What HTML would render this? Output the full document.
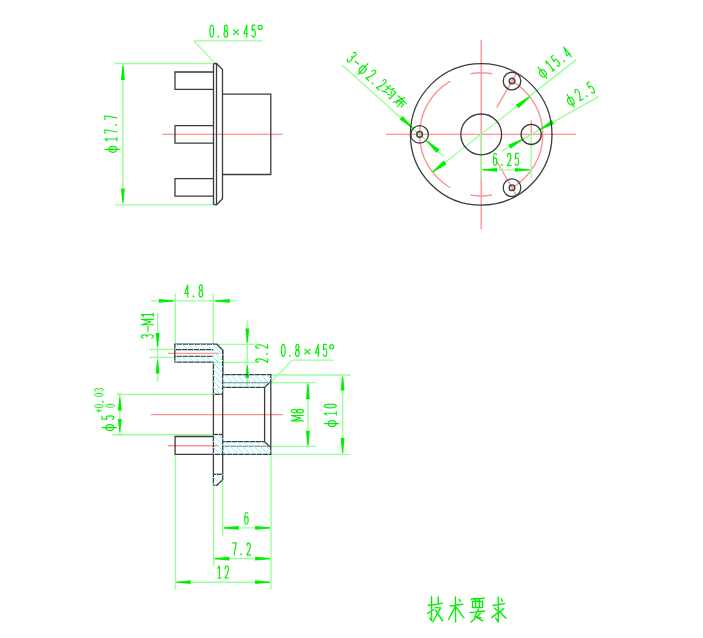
<!DOCTYPE html>
<html><head><meta charset="utf-8"><style>
html,body{margin:0;padding:0;background:#fff;width:703px;height:638px;overflow:hidden;font-family:"Liberation Sans",sans-serif;}
svg{display:block;position:absolute;left:0;top:0;}
</style></head><body>
<svg width="703" height="638" viewBox="0 0 703 638"><line x1="114.8" y1="63.5" x2="214" y2="63.5" stroke="#99ff99" stroke-width="1.35"/>
<line x1="115" y1="204.8" x2="214" y2="204.8" stroke="#99ff99" stroke-width="1.35"/>
<line x1="122.9" y1="63.5" x2="122.9" y2="204.8" stroke="#99ff99" stroke-width="1.35"/>
<polygon points="123.45,66 124.8,80 121,80 122.35,66" fill="#00f000"/>
<polygon points="122.35,202.6 121,188.6 124.8,188.6 123.45,202.6" fill="#00f000"/>
<g transform="translate(104.9,152.7) rotate(-90)" stroke="#00f000" stroke-width="1.15" stroke-linecap="round" stroke-linejoin="round"><ellipse cx="3.4" cy="7.92" rx="3" ry="3.96" fill="none"/><path d="M3.4,0 L3.4,14.4" fill="none"/><path d="M11.87,2.4 L13.72,0 L13.72,12" fill="none"/><path d="M12.05,12 L15.2,12" fill="none"/><path d="M19.2,0 L22.9,0 L20.68,12" fill="none"/><rect x="26.9" y="10.6" width="1.6" height="1.6" fill="#00f000" stroke="none"/><path d="M33.3,0 L37,0 L34.78,12" fill="none"/></g>
<line x1="215.5" y1="63.6" x2="193.9" y2="40.9" stroke="#99ff99" stroke-width="1.35"/>
<line x1="193.9" y1="40.9" x2="262.7" y2="40.9" stroke="#99ff99" stroke-width="1.35"/>
<g transform="translate(209.7,25.1) rotate(0)" stroke="#00f000" stroke-width="1.15" stroke-linecap="round" stroke-linejoin="round"><ellipse cx="2.05" cy="6" rx="1.85" ry="6" fill="none"/><rect x="7.9" y="10.6" width="1.6" height="1.6" fill="#00f000" stroke="none"/><ellipse cx="16.15" cy="2.88" rx="1.48" ry="2.88" fill="none"/><ellipse cx="16.15" cy="8.82" rx="1.85" ry="3.18" fill="none"/><path d="M23.6,4.8 L28.8,9.6" fill="none"/><path d="M28.8,4.8 L23.6,9.6" fill="none"/><path d="M37.11,12 L37.11,0 L34.3,8.64 L38,8.64" fill="none"/><path d="M45.4,0 L42.59,0 L42.3,5.52 C42.81,4.68 43.41,4.32 43.92,4.32 C44.96,4.32 45.59,6 45.59,8.16 C45.59,10.8 44.81,12 43.85,12 C43.11,12 42.48,11.52 42.07,10.32" fill="none"/><ellipse cx="50.5" cy="2.28" rx="1.98" ry="2.04" fill="none"/></g>
<line x1="162.3" y1="134.4" x2="282.6" y2="134.4" stroke="#ff9494" stroke-width="1.4"/>
<path d="M213.5,204.8 L213.5,65.2 Q213.5,63.5 215.2,63.5 L216.5,63.5 L222.5,69.5 L222.5,198.8 L216.5,204.8 L215.2,204.8 Q213.5,204.8 213.5,203.1" stroke="#3c3c3c" stroke-width="1.3" fill="none" />
<line x1="216.5" y1="63.5" x2="216.5" y2="204.8" stroke="#3c3c3c" stroke-width="1.3"/>
<path d="M213.5,72 L175,72 L175,89.3 L213.5,89.3" stroke="#3c3c3c" stroke-width="1.3" fill="none" />
<path d="M213.5,125.6 L175,125.6 L175,143.2 L213.5,143.2" stroke="#3c3c3c" stroke-width="1.3" fill="none" />
<path d="M213.5,178.6 L175,178.6 L175,196.1 L213.5,196.1" stroke="#3c3c3c" stroke-width="1.3" fill="none" />
<path d="M222.5,94.2 L270.8,94.2 L270.8,174.5 L222.5,174.5" stroke="#3c3c3c" stroke-width="1.3" fill="none" />
<line x1="386" y1="134.4" x2="575.7" y2="134.4" stroke="#ff9494" stroke-width="1.4"/>
<line x1="481.2" y1="39.8" x2="481.2" y2="229" stroke="#ff9494" stroke-width="1.4"/>
<line x1="531.2" y1="120.2" x2="531.2" y2="134.4" stroke="#ff9494" stroke-width="1.4"/>
<path d="M512,187.75 A61.6,61.6 0 0 0 512,81.05" stroke="#ff9494" stroke-width="1.4" fill="none" />
<path d="M491.9,73.74 A61.6,61.6 0 0 0 470.5,73.74" stroke="#ff9494" stroke-width="1.4" fill="none" />
<path d="M450.4,81.05 A61.6,61.6 0 0 0 450.4,187.75" stroke="#ff9494" stroke-width="1.4" fill="none" />
<path d="M470.5,195.06 A61.6,61.6 0 0 0 491.9,195.06" stroke="#ff9494" stroke-width="1.4" fill="none" />
<line x1="496.7" y1="107.55" x2="516.2" y2="73.78" stroke="#ff9494" stroke-width="1.4"/>
<line x1="496.7" y1="161.25" x2="516.2" y2="195.02" stroke="#ff9494" stroke-width="1.4"/>
<line x1="342.1" y1="65.1" x2="443.8" y2="156.6" stroke="#99ff99" stroke-width="1.35"/>
<polygon points="412.12,128.36 399.53,119.31 402.62,115.9 412.86,127.54" fill="#00f000"/>
<polygon points="427.08,140.44 439.67,149.49 436.58,152.9 426.34,141.26" fill="#00f000"/>
<g transform="translate(354.2,51.3) rotate(42.2)" stroke="#00f000" stroke-width="1.15" stroke-linecap="round" stroke-linejoin="round"><path d="M0.35,1.68 C0.87,0.24 1.49,0 2.05,0 C3.09,0 3.6,1.44 3.6,3.12 C3.6,4.8 2.94,5.64 1.75,5.64 C3.16,5.64 3.79,7.2 3.79,8.88 C3.79,11.04 3.01,12 2.05,12 C1.31,12 0.64,11.52 0.27,10.32" fill="none"/><path d="M7.2,6.6 L12,6.6" fill="none"/><ellipse cx="18.5" cy="7.92" rx="3" ry="3.96" fill="none"/><path d="M18.5,0 L18.5,14.4" fill="none"/><path d="M26.71,2.88 C26.82,0.72 27.56,0 28.45,0 C29.49,0 30.15,1.44 30.15,3.6 C30.15,6.24 28.82,8.64 26.67,12 L30.3,12" fill="none"/><rect x="34.3" y="10.6" width="1.6" height="1.6" fill="#00f000" stroke="none"/><path d="M40.81,2.88 C40.92,0.72 41.66,0 42.55,0 C43.59,0 44.25,1.44 44.25,3.6 C44.25,6.24 42.92,8.64 40.77,12 L44.4,12" fill="none"/><path d="M47.14,4.32 L51.7,3.96" fill="none"/><path d="M49.54,0.96 L49.54,9.84" fill="none"/><path d="M46.9,10.8 L52.18,8.64" fill="none"/><path d="M54.34,0.48 L52.9,3.84" fill="none"/><path d="M53.38,2.64 L58.42,2.64 L58.42,11.04 L56.98,11.64" fill="none"/><path d="M54.58,5.04 L55.78,6.24" fill="none"/><path d="M53.62,9.36 L57.22,7.44" fill="none"/><path d="M62.26,3.6 L73.54,3.6" fill="none"/><path d="M68.5,0.48 L63.34,11.64" fill="none"/><path d="M65.98,6.24 L65.98,10.32" fill="none"/><path d="M65.98,6.24 L72.22,6.24 L72.22,9.84" fill="none"/><path d="M69.1,4.56 L69.1,12" fill="none"/></g>
<line x1="432.53" y1="172.16" x2="576.3" y2="59.6" stroke="#99ff99" stroke-width="1.35"/>
<polygon points="432.19,171.72 443.76,160.53 446.58,164.17 432.86,172.59" fill="#00f000"/>
<polygon points="530.21,97.08 518.64,108.27 515.82,104.63 529.54,96.21" fill="#00f000"/>
<g transform="translate(535.4,69.2) rotate(-37.8)" stroke="#00f000" stroke-width="1.15" stroke-linecap="round" stroke-linejoin="round"><ellipse cx="3.4" cy="7.92" rx="3" ry="3.96" fill="none"/><path d="M3.4,0 L3.4,14.4" fill="none"/><path d="M11.87,2.4 L13.72,0 L13.72,12" fill="none"/><path d="M12.05,12 L15.2,12" fill="none"/><path d="M22.6,0 L19.79,0 L19.5,5.52 C20.01,4.68 20.61,4.32 21.12,4.32 C22.16,4.32 22.79,6 22.79,8.16 C22.79,10.8 22.01,12 21.05,12 C20.31,12 19.68,11.52 19.27,10.32" fill="none"/><rect x="26.9" y="10.6" width="1.6" height="1.6" fill="#00f000" stroke="none"/><path d="M36.11,12 L36.11,0 L33.3,8.64 L37,8.64" fill="none"/></g>
<line x1="501.8" y1="151.1" x2="598.9" y2="96.3" stroke="#99ff99" stroke-width="1.35"/>
<polygon points="522.58,139.89 510.55,148.68 508.29,144.67 522.04,138.93" fill="#00f000"/>
<polygon points="539.82,128.91 551.85,120.12 554.11,124.13 540.36,129.87" fill="#00f000"/>
<g transform="translate(564,96) rotate(-29.4)" stroke="#00f000" stroke-width="1.15" stroke-linecap="round" stroke-linejoin="round"><ellipse cx="3.4" cy="7.92" rx="3" ry="3.96" fill="none"/><path d="M3.4,0 L3.4,14.4" fill="none"/><path d="M11.61,2.88 C11.72,0.72 12.46,0 13.35,0 C14.39,0 15.05,1.44 15.05,3.6 C15.05,6.24 13.72,8.64 11.57,12 L15.2,12" fill="none"/><rect x="19.2" y="10.6" width="1.6" height="1.6" fill="#00f000" stroke="none"/><path d="M29,0 L26.19,0 L25.9,5.52 C26.41,4.68 27.01,4.32 27.52,4.32 C28.56,4.32 29.19,6 29.19,8.16 C29.19,10.8 28.41,12 27.45,12 C26.71,12 26.08,11.52 25.67,10.32" fill="none"/></g>
<line x1="481.2" y1="134.4" x2="481.2" y2="178.4" stroke="#99ff99" stroke-width="1.35"/>
<line x1="531.2" y1="134.4" x2="531.2" y2="178" stroke="#99ff99" stroke-width="1.35"/>
<line x1="481.2" y1="169.8" x2="531.2" y2="169.8" stroke="#99ff99" stroke-width="1.35"/>
<polygon points="482.5,169.25 497,167.9 497,171.7 482.5,170.35" fill="#00f000"/>
<polygon points="529.8,170.35 515,171.7 515,167.9 529.8,169.25" fill="#00f000"/>
<g transform="translate(493,153.4) rotate(0)" stroke="#00f000" stroke-width="1.15" stroke-linecap="round" stroke-linejoin="round"><path d="M3.53,1.2 C3.01,0.24 2.49,0 2.05,0 C0.94,0 0.31,3.12 0.31,7.44 C0.31,10.56 1.09,12 2.05,12 C3.09,12 3.79,10.32 3.79,7.92 C3.79,5.64 3.09,4.44 2.05,4.44 C1.09,4.44 0.31,5.76 0.31,7.44" fill="none"/><rect x="7.9" y="10.6" width="1.6" height="1.6" fill="#00f000" stroke="none"/><path d="M14.41,2.88 C14.52,0.72 15.26,0 16.15,0 C17.19,0 17.85,1.44 17.85,3.6 C17.85,6.24 16.52,8.64 14.37,12 L18,12" fill="none"/><path d="M25.4,0 L22.59,0 L22.3,5.52 C22.81,4.68 23.41,4.32 23.92,4.32 C24.96,4.32 25.59,6 25.59,8.16 C25.59,10.8 24.81,12 23.85,12 C23.11,12 22.48,11.52 22.07,10.32" fill="none"/></g>
<circle cx="481.2" cy="134.4" r="70.8" stroke="#3c3c3c" stroke-width="1.3" fill="none"/>
<circle cx="481.2" cy="134.4" r="20.4" stroke="#3c3c3c" stroke-width="1.3" fill="none"/>
<circle cx="531.2" cy="134.4" r="10.1" stroke="#3c3c3c" stroke-width="1.3" fill="none"/>
<circle cx="419.6" cy="134.4" r="8.8" stroke="#3c3c3c" stroke-width="1.3" fill="none"/>
<circle cx="419.6" cy="134.4" r="2.8" stroke="#444" stroke-width="1.5" fill="none"/>
<circle cx="512" cy="81.05" r="8.8" stroke="#3c3c3c" stroke-width="1.3" fill="none"/>
<circle cx="512" cy="81.05" r="2.8" stroke="#444" stroke-width="1.5" fill="none"/>
<circle cx="512" cy="187.75" r="8.8" stroke="#3c3c3c" stroke-width="1.3" fill="none"/>
<circle cx="512" cy="187.75" r="2.8" stroke="#444" stroke-width="1.5" fill="none"/>
<line x1="151" y1="300.9" x2="237.2" y2="300.9" stroke="#99ff99" stroke-width="1.35"/>
<line x1="175.3" y1="293.2" x2="175.3" y2="344.2" stroke="#99ff99" stroke-width="1.35"/>
<line x1="213.4" y1="293.2" x2="213.4" y2="344.2" stroke="#99ff99" stroke-width="1.35"/>
<polygon points="173.5,301.45 158.8,302.8 158.8,299 173.5,300.35" fill="#00f000"/>
<polygon points="215.2,300.35 229.8,299 229.8,302.8 215.2,301.45" fill="#00f000"/>
<g transform="translate(184.7,284.9) rotate(0)" stroke="#00f000" stroke-width="1.15" stroke-linecap="round" stroke-linejoin="round"><path d="M3.01,12 L3.01,0 L0.2,8.64 L3.9,8.64" fill="none"/><rect x="7.9" y="10.6" width="1.6" height="1.6" fill="#00f000" stroke="none"/><ellipse cx="16.15" cy="2.88" rx="1.48" ry="2.88" fill="none"/><ellipse cx="16.15" cy="8.82" rx="1.85" ry="3.18" fill="none"/></g>
<line x1="157.6" y1="313" x2="157.6" y2="381.5" stroke="#99ff99" stroke-width="1.35"/>
<line x1="149.1" y1="349.4" x2="174.8" y2="349.4" stroke="#99ff99" stroke-width="1.35"/>
<line x1="149.1" y1="357.4" x2="174.8" y2="357.4" stroke="#99ff99" stroke-width="1.35"/>
<polygon points="157.05,346.5 155.7,333 159.5,333 158.15,346.5" fill="#00f000"/>
<polygon points="158.15,360.5 159.5,373.6 155.7,373.6 157.05,360.5" fill="#00f000"/>
<g transform="translate(141.3,338.5) rotate(-90)" stroke="#00f000" stroke-width="1.15" stroke-linecap="round" stroke-linejoin="round"><path d="M0.35,1.68 C0.87,0.24 1.49,0 2.05,0 C3.09,0 3.6,1.44 3.6,3.12 C3.6,4.8 2.94,5.64 1.75,5.64 C3.16,5.64 3.79,7.2 3.79,8.88 C3.79,11.04 3.01,12 2.05,12 C1.31,12 0.64,11.52 0.27,10.32" fill="none"/><path d="M7.2,6.6 L12,6.6" fill="none"/><path d="M13.8,12 L13.8,0 L16.5,9.6 L19.2,0 L19.2,12" fill="none"/><path d="M22.07,2.4 L23.92,0 L23.92,12" fill="none"/><path d="M22.25,12 L25.4,12" fill="none"/></g>
<line x1="247.3" y1="320.6" x2="247.3" y2="386.2" stroke="#99ff99" stroke-width="1.35"/>
<line x1="216.8" y1="344.3" x2="255.1" y2="344.3" stroke="#99ff99" stroke-width="1.35"/>
<line x1="213.4" y1="362.3" x2="255.1" y2="362.3" stroke="#99ff99" stroke-width="1.35"/>
<polygon points="246.75,342.5 245.4,328.6 249.2,328.6 247.85,342.5" fill="#00f000"/>
<polygon points="247.85,365.5 249.2,378 245.4,378 246.75,365.5" fill="#00f000"/>
<g transform="translate(255.7,362.6) rotate(-90)" stroke="#00f000" stroke-width="1.15" stroke-linecap="round" stroke-linejoin="round"><path d="M0.31,2.88 C0.42,0.72 1.16,0 2.05,0 C3.09,0 3.75,1.44 3.75,3.6 C3.75,6.24 2.42,8.64 0.27,12 L3.9,12" fill="none"/><rect x="7.9" y="10.6" width="1.6" height="1.6" fill="#00f000" stroke="none"/><path d="M14.41,2.88 C14.52,0.72 15.26,0 16.15,0 C17.19,0 17.85,1.44 17.85,3.6 C17.85,6.24 16.52,8.64 14.37,12 L18,12" fill="none"/></g>
<line x1="269.5" y1="383.5" x2="292.3" y2="360.1" stroke="#99ff99" stroke-width="1.35"/>
<line x1="292.3" y1="360.1" x2="333.7" y2="360.1" stroke="#99ff99" stroke-width="1.35"/>
<g transform="translate(281.2,344.4) rotate(0)" stroke="#00f000" stroke-width="1.15" stroke-linecap="round" stroke-linejoin="round"><ellipse cx="2.05" cy="6" rx="1.85" ry="6" fill="none"/><rect x="7.9" y="10.6" width="1.6" height="1.6" fill="#00f000" stroke="none"/><ellipse cx="16.15" cy="2.88" rx="1.48" ry="2.88" fill="none"/><ellipse cx="16.15" cy="8.82" rx="1.85" ry="3.18" fill="none"/><path d="M23.6,4.8 L28.8,9.6" fill="none"/><path d="M28.8,4.8 L23.6,9.6" fill="none"/><path d="M37.11,12 L37.11,0 L34.3,8.64 L38,8.64" fill="none"/><path d="M45.4,0 L42.59,0 L42.3,5.52 C42.81,4.68 43.41,4.32 43.92,4.32 C44.96,4.32 45.59,6 45.59,8.16 C45.59,10.8 44.81,12 43.85,12 C43.11,12 42.48,11.52 42.07,10.32" fill="none"/><ellipse cx="50.5" cy="2.28" rx="1.98" ry="2.04" fill="none"/></g>
<line x1="270.8" y1="375" x2="350.9" y2="375" stroke="#99ff99" stroke-width="1.35"/>
<line x1="270.8" y1="382.6" x2="315.6" y2="382.6" stroke="#99ff99" stroke-width="1.35"/>
<line x1="270.8" y1="446.3" x2="315.6" y2="446.3" stroke="#99ff99" stroke-width="1.35"/>
<line x1="270.8" y1="454.3" x2="350.2" y2="454.3" stroke="#99ff99" stroke-width="1.35"/>
<line x1="307.9" y1="382.6" x2="307.9" y2="446.3" stroke="#99ff99" stroke-width="1.35"/>
<polygon points="308.45,384.2 309.8,399 306,399 307.35,384.2" fill="#00f000"/>
<polygon points="307.35,445 306,430.7 309.8,430.7 308.45,445" fill="#00f000"/>
<line x1="342.6" y1="375" x2="342.6" y2="454.3" stroke="#99ff99" stroke-width="1.35"/>
<polygon points="343.15,376.8 344.5,390.5 340.7,390.5 342.05,376.8" fill="#00f000"/>
<polygon points="342.05,452.8 340.7,438 344.5,438 343.15,452.8" fill="#00f000"/>
<g transform="translate(291.3,421.2) rotate(-90)" stroke="#00f000" stroke-width="1.15" stroke-linecap="round" stroke-linejoin="round"><path d="M0.3,12 L0.3,0 L3,9.6 L5.7,0 L5.7,12" fill="none"/><ellipse cx="10.05" cy="2.88" rx="1.48" ry="2.88" fill="none"/><ellipse cx="10.05" cy="8.82" rx="1.85" ry="3.18" fill="none"/></g>
<g transform="translate(324.3,427) rotate(-90)" stroke="#00f000" stroke-width="1.15" stroke-linecap="round" stroke-linejoin="round"><ellipse cx="3.4" cy="7.92" rx="3" ry="3.96" fill="none"/><path d="M3.4,0 L3.4,14.4" fill="none"/><path d="M11.87,2.4 L13.72,0 L13.72,12" fill="none"/><path d="M12.05,12 L15.2,12" fill="none"/><ellipse cx="21.05" cy="6" rx="1.85" ry="6" fill="none"/></g>
<line x1="117" y1="394.4" x2="213.4" y2="394.4" stroke="#99ff99" stroke-width="1.35"/>
<line x1="112" y1="434.7" x2="213.4" y2="434.7" stroke="#99ff99" stroke-width="1.35"/>
<line x1="119.8" y1="394.4" x2="119.8" y2="434.7" stroke="#99ff99" stroke-width="1.35"/>
<polygon points="120.35,397.5 121.7,410.5 117.9,410.5 119.25,397.5" fill="#00f000"/>
<polygon points="119.25,431.5 117.9,419 121.7,419 120.35,431.5" fill="#00f000"/>
<line x1="117.8" y1="392.4" x2="121.8" y2="396.4" stroke="#99ff99" stroke-width="0.8"/>
<line x1="117.8" y1="396.4" x2="121.8" y2="392.4" stroke="#99ff99" stroke-width="0.8"/>
<line x1="117.8" y1="432.7" x2="121.8" y2="436.7" stroke="#99ff99" stroke-width="0.8"/>
<line x1="117.8" y1="436.7" x2="121.8" y2="432.7" stroke="#99ff99" stroke-width="0.8"/>
<g transform="translate(101.9,431) rotate(-90)" stroke="#00f000" stroke-width="1.15" stroke-linecap="round" stroke-linejoin="round"><ellipse cx="3.4" cy="7.92" rx="3" ry="3.96" fill="none"/><path d="M3.4,0 L3.4,14.4" fill="none"/><path d="M14.9,0 L12.09,0 L11.8,5.52 C12.31,4.68 12.91,4.32 13.42,4.32 C14.46,4.32 15.09,6 15.09,8.16 C15.09,10.8 14.31,12 13.35,12 C12.61,12 11.98,11.52 11.57,10.32" fill="none"/></g>
<g transform="translate(94.3,412.8) rotate(-90)" stroke="#00f000" stroke-width="0.9" stroke-linecap="round" stroke-linejoin="round"><path d="M2,1.8 L2,7.2" fill="none"/><path d="M0.6,4.5 L3.4,4.5" fill="none"/><ellipse cx="6.72" cy="4.5" rx="1.48" ry="4.5" fill="none"/><rect x="10.36" y="7.75" width="1.6" height="1.6" fill="#00f000" stroke="none"/></g>
<g transform="translate(94.3,396.5) rotate(-90)" stroke="#00f000" stroke-width="0.9" stroke-linecap="round" stroke-linejoin="round"><ellipse cx="1.64" cy="4.5" rx="1.48" ry="4.5" fill="none"/><path d="M5.36,1.26 C5.77,0.18 6.28,0 6.72,0 C7.55,0 7.97,1.08 7.97,2.34 C7.97,3.6 7.43,4.23 6.49,4.23 C7.61,4.23 8.11,5.4 8.11,6.66 C8.11,8.28 7.49,9 6.72,9 C6.13,9 5.6,8.64 5.3,7.74" fill="none"/></g>
<g transform="translate(105.8,407.4) rotate(-90)" stroke="#00f000" stroke-width="0.9" stroke-linecap="round" stroke-linejoin="round"><ellipse cx="1.64" cy="4.5" rx="1.48" ry="4.5" fill="none"/></g>
<line x1="175.5" y1="454.3" x2="175.5" y2="589.5" stroke="#99ff99" stroke-width="1.35"/>
<line x1="213.7" y1="485.3" x2="213.7" y2="566.5" stroke="#99ff99" stroke-width="1.35"/>
<line x1="222.7" y1="479.5" x2="222.7" y2="535.7" stroke="#99ff99" stroke-width="1.35"/>
<line x1="271" y1="454.3" x2="271" y2="589.5" stroke="#99ff99" stroke-width="1.35"/>
<line x1="222.7" y1="527.9" x2="271" y2="527.9" stroke="#99ff99" stroke-width="1.35"/>
<polygon points="223.9,527.35 238.7,526 238.7,529.8 223.9,528.45" fill="#00f000"/>
<polygon points="270,528.45 255.1,529.8 255.1,526 270,527.35" fill="#00f000"/>
<g transform="translate(244.4,512.2) rotate(0)" stroke="#00f000" stroke-width="1.15" stroke-linecap="round" stroke-linejoin="round"><path d="M3.53,1.2 C3.01,0.24 2.49,0 2.05,0 C0.94,0 0.31,3.12 0.31,7.44 C0.31,10.56 1.09,12 2.05,12 C3.09,12 3.79,10.32 3.79,7.92 C3.79,5.64 3.09,4.44 2.05,4.44 C1.09,4.44 0.31,5.76 0.31,7.44" fill="none"/></g>
<line x1="213.7" y1="558.6" x2="271" y2="558.6" stroke="#99ff99" stroke-width="1.35"/>
<polygon points="214.5,558.05 229.5,556.7 229.5,560.5 214.5,559.15" fill="#00f000"/>
<polygon points="270,559.15 255.1,560.5 255.1,556.7 270,558.05" fill="#00f000"/>
<g transform="translate(232.4,542.9) rotate(0)" stroke="#00f000" stroke-width="1.15" stroke-linecap="round" stroke-linejoin="round"><path d="M0.2,0 L3.9,0 L1.68,12" fill="none"/><rect x="7.9" y="10.6" width="1.6" height="1.6" fill="#00f000" stroke="none"/><path d="M14.41,2.88 C14.52,0.72 15.26,0 16.15,0 C17.19,0 17.85,1.44 17.85,3.6 C17.85,6.24 16.52,8.64 14.37,12 L18,12" fill="none"/></g>
<line x1="175.5" y1="582.2" x2="271" y2="582.2" stroke="#99ff99" stroke-width="1.35"/>
<polygon points="176.6,581.65 190.6,580.3 190.6,584.1 176.6,582.75" fill="#00f000"/>
<polygon points="270,582.75 255.1,584.1 255.1,580.3 270,581.65" fill="#00f000"/>
<g transform="translate(217,566) rotate(0)" stroke="#00f000" stroke-width="1.15" stroke-linecap="round" stroke-linejoin="round"><path d="M0.57,2.4 L2.42,0 L2.42,12" fill="none"/><path d="M0.76,12 L3.9,12" fill="none"/><path d="M8.01,2.88 C8.12,0.72 8.86,0 9.75,0 C10.79,0 11.45,1.44 11.45,3.6 C11.45,6.24 10.12,8.64 7.97,12 L11.6,12" fill="none"/></g>
<line x1="167.9" y1="353.4" x2="219.2" y2="353.4" stroke="#ff9494" stroke-width="1.4"/>
<line x1="150.8" y1="414.6" x2="283.2" y2="414.6" stroke="#ff9494" stroke-width="1.4"/>
<line x1="167.8" y1="445.8" x2="218.8" y2="445.8" stroke="#ff9494" stroke-width="1.4"/>
<path d="M174.8,362.2 L174.8,344.2 L216.8,344.2 L222.7,350 L222.7,374.7 L270.8,374.7 L270.8,454.3 L175.1,454.3 L175.1,436.5 L213.4,436.5" stroke="#3c3c3c" stroke-width="1.3" fill="none" />
<line x1="213.4" y1="362.2" x2="174.8" y2="362.2" stroke="#3c3c3c" stroke-width="1.3"/>
<line x1="174.8" y1="349.7" x2="213.4" y2="349.7" stroke="#3c3c3c" stroke-width="1.3"/>
<line x1="174.8" y1="356.4" x2="213.4" y2="356.4" stroke="#555" stroke-width="1.3"/>
<line x1="213.4" y1="362.2" x2="213.4" y2="483.7" stroke="#3c3c3c" stroke-width="1.3"/>
<path d="M213.4,483.7 Q213.4,485.3 215,485.3 L217,485.3 L222.7,479.5 L222.7,350" stroke="#3c3c3c" stroke-width="1.3" fill="none" />
<line x1="213.4" y1="394.3" x2="222.7" y2="394.3" stroke="#3c3c3c" stroke-width="1.3"/>
<line x1="213.4" y1="434.5" x2="222.7" y2="434.5" stroke="#3c3c3c" stroke-width="1.3"/>
<line x1="213.4" y1="474.3" x2="222.7" y2="474.3" stroke="#3c3c3c" stroke-width="1.3"/>
<line x1="222.7" y1="387.3" x2="264.6" y2="387.3" stroke="#3c3c3c" stroke-width="1.3"/>
<line x1="264.6" y1="387.3" x2="270.8" y2="381.5" stroke="#3c3c3c" stroke-width="1.3"/>
<line x1="222.7" y1="382.7" x2="270.8" y2="382.7" stroke="#777" stroke-width="1.1"/>
<line x1="222.7" y1="441.7" x2="264.6" y2="441.7" stroke="#3c3c3c" stroke-width="1.3"/>
<line x1="264.6" y1="441.7" x2="270.8" y2="447.5" stroke="#3c3c3c" stroke-width="1.3"/>
<line x1="222.7" y1="446.3" x2="270.8" y2="446.3" stroke="#777" stroke-width="1.1"/>
<line x1="264.6" y1="387.3" x2="264.6" y2="441.7" stroke="#3c3c3c" stroke-width="1.3"/>
<clipPath id="hc"><path d="M174.3,343.7 L217,343.7 L223.2,349.8 L223.2,394.8 L212.9,394.8 L212.9,362.7 L174.3,362.7 L174.3,355.9 L213.4,355.9 L213.4,350.2 L174.3,350.2 Z M222.2,374.2 L271.3,374.2 L271.3,381.7 L264.8,387.8 L222.2,387.8 Z M212.9,434 L223.2,434 L223.2,441.2 L264.8,441.2 L271.3,447.3 L271.3,454.8 L212.9,454.8 Z M212.9,473.8 L223.2,473.8 L223.2,479.7 L217.2,485.8 L212.9,485.8 Z"/></clipPath>
<g clip-path="url(#hc)"><path d="M-258.1,330 L-88.1,500 M-252.1,330 L-82.1,500 M-246.1,330 L-76.1,500 M-240.1,330 L-70.1,500 M-234.1,330 L-64.1,500 M-228.1,330 L-58.1,500 M-222.1,330 L-52.1,500 M-216.1,330 L-46.1,500 M-210.1,330 L-40.1,500 M-204.1,330 L-34.1,500 M-198.1,330 L-28.1,500 M-192.1,330 L-22.1,500 M-186.1,330 L-16.1,500 M-180.1,330 L-10.1,500 M-174.1,330 L-4.1,500 M-168.1,330 L1.9,500 M-162.1,330 L7.9,500 M-156.1,330 L13.9,500 M-150.1,330 L19.9,500 M-144.1,330 L25.9,500 M-138.1,330 L31.9,500 M-132.1,330 L37.9,500 M-126.1,330 L43.9,500 M-120.1,330 L49.9,500 M-114.1,330 L55.9,500 M-108.1,330 L61.9,500 M-102.1,330 L67.9,500 M-96.1,330 L73.9,500 M-90.1,330 L79.9,500 M-84.1,330 L85.9,500 M-78.1,330 L91.9,500 M-72.1,330 L97.9,500 M-66.1,330 L103.9,500 M-60.1,330 L109.9,500 M-54.1,330 L115.9,500 M-48.1,330 L121.9,500 M-42.1,330 L127.9,500 M-36.1,330 L133.9,500 M-30.1,330 L139.9,500 M-24.1,330 L145.9,500 M-18.1,330 L151.9,500 M-12.1,330 L157.9,500 M-6.1,330 L163.9,500 M-0.1,330 L169.9,500 M5.9,330 L175.9,500 M11.9,330 L181.9,500 M17.9,330 L187.9,500 M23.9,330 L193.9,500 M29.9,330 L199.9,500 M35.9,330 L205.9,500 M41.9,330 L211.9,500 M47.9,330 L217.9,500 M53.9,330 L223.9,500 M59.9,330 L229.9,500 M65.9,330 L235.9,500 M71.9,330 L241.9,500 M77.9,330 L247.9,500 M83.9,330 L253.9,500 M89.9,330 L259.9,500 M95.9,330 L265.9,500 M101.9,330 L271.9,500 M107.9,330 L277.9,500 M113.9,330 L283.9,500 M119.9,330 L289.9,500 M125.9,330 L295.9,500 M131.9,330 L301.9,500 M137.9,330 L307.9,500 M143.9,330 L313.9,500 M149.9,330 L319.9,500 M155.9,330 L325.9,500 M161.9,330 L331.9,500 M167.9,330 L337.9,500 M173.9,330 L343.9,500 M179.9,330 L349.9,500 M185.9,330 L355.9,500 M191.9,330 L361.9,500 M197.9,330 L367.9,500 M203.9,330 L373.9,500 M209.9,330 L379.9,500 M215.9,330 L385.9,500 M221.9,330 L391.9,500 M227.9,330 L397.9,500 M233.9,330 L403.9,500 M239.9,330 L409.9,500 M245.9,330 L415.9,500 M251.9,330 L421.9,500 M257.9,330 L427.9,500 M263.9,330 L433.9,500 M269.9,330 L439.9,500 M275.9,330 L445.9,500 M281.9,330 L451.9,500 M287.9,330 L457.9,500 M293.9,330 L463.9,500 M299.9,330 L469.9,500 M305.9,330 L475.9,500 M311.9,330 L481.9,500 M317.9,330 L487.9,500 M323.9,330 L493.9,500 M329.9,330 L499.9,500 M335.9,330 L505.9,500 M341.9,330 L511.9,500 M347.9,330 L517.9,500 M353.9,330 L523.9,500 M359.9,330 L529.9,500 M365.9,330 L535.9,500 M371.9,330 L541.9,500 M377.9,330 L547.9,500 M383.9,330 L553.9,500 M389.9,330 L559.9,500 M395.9,330 L565.9,500 M401.9,330 L571.9,500 M407.9,330 L577.9,500 M413.9,330 L583.9,500 M419.9,330 L589.9,500 M425.9,330 L595.9,500 M431.9,330 L601.9,500 M437.9,330 L607.9,500 M443.9,330 L613.9,500 M449.9,330 L619.9,500 M455.9,330 L625.9,500 M461.9,330 L631.9,500 M467.9,330 L637.9,500 M473.9,330 L643.9,500 M479.9,330 L649.9,500 M485.9,330 L655.9,500 M491.9,330 L661.9,500 M497.9,330 L667.9,500 M503.9,330 L673.9,500 M509.9,330 L679.9,500 M515.9,330 L685.9,500 M521.9,330 L691.9,500 M527.9,330 L697.9,500 M533.9,330 L703.9,500 M539.9,330 L709.9,500 M545.9,330 L715.9,500 M551.9,330 L721.9,500 M557.9,330 L727.9,500 M563.9,330 L733.9,500 M569.9,330 L739.9,500 M575.9,330 L745.9,500 M581.9,330 L751.9,500 M587.9,330 L757.9,500 M593.9,330 L763.9,500 M599.9,330 L769.9,500 M605.9,330 L775.9,500 M611.9,330 L781.9,500 M617.9,330 L787.9,500 M623.9,330 L793.9,500 M629.9,330 L799.9,500 M635.9,330 L805.9,500 M641.9,330 L811.9,500 M647.9,330 L817.9,500 M653.9,330 L823.9,500 M659.9,330 L829.9,500 M665.9,330 L835.9,500 M671.9,330 L841.9,500 M677.9,330 L847.9,500 M683.9,330 L853.9,500 M689.9,330 L859.9,500 M695.9,330 L865.9,500 M701.9,330 L871.9,500 M707.9,330 L877.9,500 M713.9,330 L883.9,500 M719.9,330 L889.9,500 M725.9,330 L895.9,500 M731.9,330 L901.9,500 M737.9,330 L907.9,500 M743.9,330 L913.9,500 M749.9,330 L919.9,500 M755.9,330 L925.9,500 M761.9,330 L931.9,500 M767.9,330 L937.9,500 M773.9,330 L943.9,500 M779.9,330 L949.9,500 M785.9,330 L955.9,500 M791.9,330 L961.9,500 M797.9,330 L967.9,500 M803.9,330 L973.9,500 M809.9,330 L979.9,500 M815.9,330 L985.9,500" stroke="#88f6ff" stroke-width="1.0" fill="none"/></g>
<path d="M428.3,605.3 L434,604.6 M431.6,596.8 L431.6,620.5 L429.5,618.3 M427.6,613.3 L434.2,609.5 M434,604.8 L442.2,603.3 M438.3,597 L438.3,604 M435.3,607.6 L440.6,607.9 L432.8,622 M435.7,610.5 L442.6,621" stroke="#00f000" stroke-width="1.4" fill="none" stroke-linecap="round" stroke-linejoin="round"/>
<path d="M450,606 L462.8,604.2 M455.4,597 L455.6,622 M455.2,606.3 L448.6,619.5 M456.4,607.3 L463,617 L464,617.6 M459.3,599.5 L460.6,601.5" stroke="#00f000" stroke-width="1.4" fill="none" stroke-linecap="round" stroke-linejoin="round"/>
<path d="M471.2,599 L484.2,598.2 M472.5,601.4 L482.6,601.4 L482.6,607.6 L472.5,607.6 Z M475.5,599 L475.5,607.6 M479.4,599 L479.4,607.6 M470,612.6 L484.6,611 M478.4,609.2 L474.6,617 L481,617.8 M480.4,613.6 L471,622 M476,617 L482.8,620.8" stroke="#00f000" stroke-width="1.4" fill="none" stroke-linecap="round" stroke-linejoin="round"/>
<path d="M493,605.5 L504.6,603.6 M498.2,597 L498.4,622 L495.6,618.2 M501.2,599 L502.6,601.2 M494.6,608 L496.8,610.4 M491.8,617.6 L497.8,612.6 M503.8,608.4 L499.6,612.6 M499.4,611.5 L506,618.3" stroke="#00f000" stroke-width="1.4" fill="none" stroke-linecap="round" stroke-linejoin="round"/></svg>
</body></html>
